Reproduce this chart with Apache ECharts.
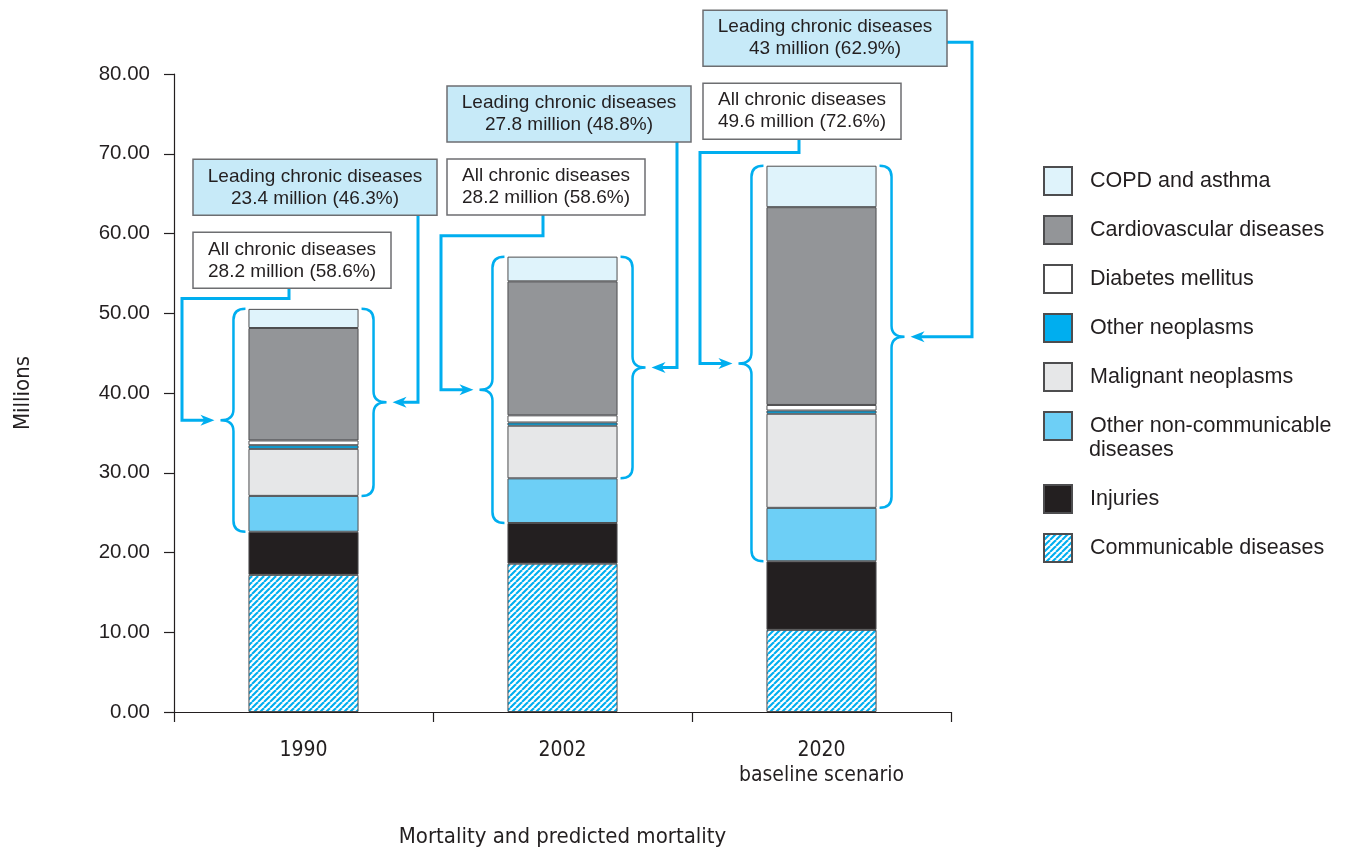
<!DOCTYPE html>
<html>
<head>
<meta charset="utf-8">
<title>Mortality and predicted mortality</title>
<script src="https://cdn.jsdelivr.net/npm/echarts@6/dist/echarts.min.js"></script>
<style>
  html, body { margin: 0; padding: 0; background: #fff; }
  #main { width: 1350px; height: 847px; }
</style>
</head>
<body>
<div id="main"></div>
<script>
// 数据 (millions)
var years = ['1990', '2002', '2020\nbaseline scenario'];
var communicable = [17.2, 18.6, 10.3];
var injuries = [5.4, 5.1, 8.6];
var otherNcd = [4.5, 5.6, 6.7];
var malignant = [5.9, 6.6, 11.8];
var otherNeo = [0.45, 0.4, 0.4];
var diabetes = [0.6, 0.9, 0.7];
var cardio = [14.1, 16.8, 24.8];
var copd = [2.4, 3.1, 5.2];

var leadingText = ['23.4 million (46.3%)', '27.8 million (48.8%)', '43 million (62.9%)'];
var allText = ['28.2 million (58.6%)', '28.2 million (58.6%)', '49.6 million (72.6%)'];

// annotation layout (not data)
var leadBoxTop = [69.3, 78.5, 88.0]; // axis units
var boxLeftOff = [19, 14, 11];      // px from band start

var CYAN = '#00aeef';
var INK = '#231f20';
var FONT = "'Liberation Sans', Arial, sans-serif";
var NARROW = "'Liberation Sans Narrow', 'DejaVu Sans Condensed', 'Liberation Sans', sans-serif";

// 斜线填充
function hatch() {
  var s = 6;
  var c = document.createElement('canvas');
  c.width = s; c.height = s;
  var ctx = c.getContext('2d');
  ctx.fillStyle = '#fff';
  ctx.fillRect(0, 0, s, s);
  ctx.strokeStyle = CYAN;
  ctx.lineWidth = 2.1;
  for (var k = -1; k <= 1; k++) {
    ctx.beginPath();
    ctx.moveTo(k * s, s);
    ctx.lineTo(k * s + s, 0);
    ctx.stroke();
  }
  return { image: c, repeat: 'repeat' };
}

function sum(arrs, i) {
  var t = 0;
  arrs.forEach(function(a) { t += a[i]; });
  return t;
}

var noteData = years.map(function(y, i) {
  return [
    i,
    sum([communicable, injuries], i),
    sum([communicable, injuries, otherNcd], i),
    sum([communicable, injuries, otherNcd, malignant, otherNeo, diabetes, cardio, copd], i),
  ];
});

function bar(name, data, color) {
  return {
    name: name,
    type: 'bar',
    stack: 'total',
    barWidth: '42.5%',
    data: data,
    itemStyle: { color: color, borderColor: '#4d4d4f', borderWidth: 1 },
  };
}

function brace(xEdge, y0, y1, dir) {
  var m = (y0 + y1) / 2;
  var a = xEdge + dir * 3, b = xEdge + dir * 15, t = xEdge + dir * 28;
  var r = 11;
  return 'M' + a + ' ' + y0 +
    ' Q' + b + ' ' + y0 + ' ' + b + ' ' + (y0 + r) +
    ' L' + b + ' ' + (m - r) +
    ' Q' + b + ' ' + m + ' ' + t + ' ' + m +
    ' Q' + b + ' ' + m + ' ' + b + ' ' + (m + r) +
    ' L' + b + ' ' + (y1 - r) +
    ' Q' + b + ' ' + y1 + ' ' + a + ' ' + y1;
}

function arrow(tipX, y, dir) {
  // dir = 1 朝右, -1 朝左
  return {
    type: 'polygon',
    shape: { points: [[tipX, y], [tipX - dir * 14, y - 5.5], [tipX - dir * 10, y], [tipX - dir * 14, y + 5.5]] },
    style: { fill: CYAN },
  };
}

function line(points) {
  return { type: 'polyline', shape: { points: points }, style: { stroke: CYAN, lineWidth: 3, fill: null } };
}

function box(x, y, w, h, fill, l1, l2) {
  return [
    { type: 'rect', shape: { x: x, y: y, width: w, height: h }, style: { fill: fill, stroke: '#6d6e71', lineWidth: 1.5 } },
    { type: 'text', style: { x: x + w / 2, y: y + h / 2 - 11, text: l1, align: 'center', verticalAlign: 'middle', font: '19px ' + FONT, fill: INK } },
    { type: 'text', style: { x: x + w / 2, y: y + h / 2 + 11, text: l2, align: 'center', verticalAlign: 'middle', font: '19px ' + FONT, fill: INK } },
  ];
}

function renderNotes(params, api) {
  var i = api.value(0);
  var band = api.size([1, 0])[0];
  var half = band * 0.425 / 2;
  var cx = api.coord([i, 0])[0];
  var yAll = api.coord([i, api.value(1)])[1];
  var yLead = api.coord([i, api.value(2)])[1];
  var yTop = api.coord([i, api.value(3)])[1];
  var x0 = cx - half, x1 = cx + half;
  var bandL = cx - band / 2, bandR = cx + band / 2;
  var mAll = (yTop + yAll) / 2, mLead = (yTop + yLead) / 2;

  var lx = bandL + boxLeftOff[i];
  var ly = api.coord([i, leadBoxTop[i]])[1];
  var bh = 56;
  var ay = ly + 73;
  var children = [];

  children.push({ type: 'path', shape: { pathData: brace(x0, yTop, yAll, -1) }, style: { fill: null, stroke: CYAN, lineWidth: 2.5 } });
  children.push({ type: 'path', shape: { pathData: brace(x1, yTop, yLead, 1) }, style: { fill: null, stroke: CYAN, lineWidth: 2.5 } });

  // all chronic 连线
  var ax = lx + 96;
  var hy = (ay + bh + yTop) / 2;
  var tipL = x0 - 34;
  children.push(line([[ax, ay + bh], [ax, hy], [bandL + 8, hy], [bandL + 8, mAll], [tipL - 8, mAll]]));
  children.push(arrow(tipL, mAll, 1));

  // leading 连线
  var tipR = x1 + 34;
  if (i < 2) {
    var lcx = bandR - 15;
    children.push(line([[lcx, ly + bh], [lcx, mLead], [tipR + 8, mLead]]));
  } else {
    var rx = bandR + 21;
    children.push(line([[lx + 244, ly + 32], [rx, ly + 32], [rx, mLead], [tipR + 8, mLead]]));
  }
  children.push(arrow(tipR, mLead, -1));

  children = children.concat(box(lx, ly, 244, bh, '#c7eaf8', 'Leading chronic diseases', leadingText[i]));
  children = children.concat(box(lx, ay, 198, bh, '#ffffff', 'All chronic diseases', allText[i]));

  return { type: 'group', children: children };
}

var ncdName = 'Other non-communicable\ndiseases';
var legendTop = ['COPD and asthma', 'Cardiovascular diseases', 'Diabetes mellitus', 'Other neoplasms',
  'Malignant neoplasms', ncdName];
var legendBottom = ['Injuries', 'Communicable diseases'];

function legend(data, top) {
  return {
    orient: 'vertical',
    left: 1043,
    top: top,
    padding: 0,
    icon: 'rect',
    itemWidth: 28,
    itemHeight: 28,
    itemGap: 19,
    selectedMode: false,
    data: data,
    formatter: function(name) { return name.split('\n')[0]; },
    textStyle: { fontSize: 21.5, color: INK, fontFamily: FONT, padding: [0, 0, 0, 13] },
  };
}

var option = {
  backgroundColor: '#fff',
  animation: false,
  textStyle: { fontFamily: FONT },
  grid: { left: 174, right: 399, top: 74, bottom: 135, outerBoundsMode: 'none' },
  legend: [legend(legendTop, 166), legend(legendBottom, 484)],
  graphic: [
    // legend 第二行
    { type: 'text', x: 1089, y: 450, style: { text: 'diseases', font: '21.5px ' + FONT, fill: INK, verticalAlign: 'middle' } },
  ],
  xAxis: {
    type: 'category',
    data: years,
    name: 'Mortality and predicted mortality',
    nameLocation: 'middle',
    nameGap: 114,
    nameTextStyle: { fontSize: 22, color: INK, fontFamily: NARROW },
    axisLine: { lineStyle: { color: INK, width: 1.2 } },
    axisTick: { show: true, length: 10, alignWithLabel: false, lineStyle: { color: INK, width: 1.2 } },
    axisLabel: { margin: 26, fontSize: 21, lineHeight: 25, color: INK, fontFamily: NARROW },
  },
  yAxis: {
    type: 'value',
    min: 0,
    max: 80,
    interval: 10,
    name: 'Millions',
    nameLocation: 'middle',
    nameGap: 140,
    nameTextStyle: { fontSize: 22, color: INK, fontFamily: NARROW },
    splitLine: { show: false },
    axisLine: { show: true, lineStyle: { color: INK, width: 1.2 } },
    axisTick: { show: true, length: 10, lineStyle: { color: INK, width: 1.2 } },
    axisLabel: {
      margin: 24,
      fontSize: 20.5,
      color: INK,
      formatter: function(v) { return v.toFixed(2); },
    },
  },
  series: [
    bar('Communicable diseases', communicable, hatch()),
    bar('Injuries', injuries, '#231f20'),
    bar(ncdName, otherNcd, '#6dcff6'),
    bar('Malignant neoplasms', malignant, '#e6e7e8'),
    bar('Other neoplasms', otherNeo, '#00aeef'),
    bar('Diabetes mellitus', diabetes, '#ffffff'),
    bar('Cardiovascular diseases', cardio, '#939598'),
    bar('COPD and asthma', copd, '#dff3fb'),
    {
      name: 'notes',
      type: 'custom',
      silent: true,
      clip: false,
      renderItem: renderNotes,
      encode: { x: 0, y: 3 },
      data: noteData,
      z: 5,
    },
  ],
};

var myChart = echarts.init(document.getElementById('main'));
myChart.setOption(option);
</script>
</body>
</html>
